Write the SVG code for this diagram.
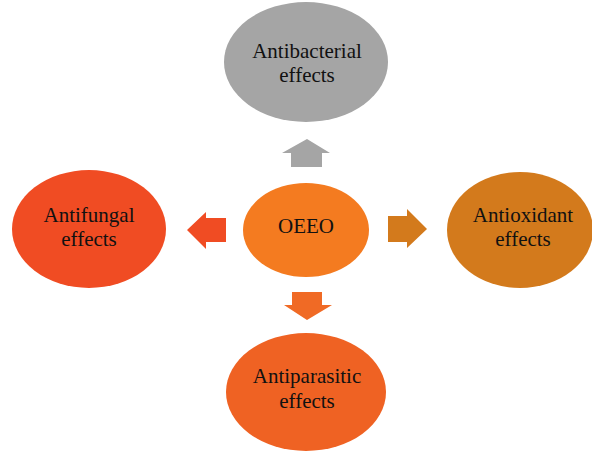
<svg xmlns="http://www.w3.org/2000/svg" width="592" height="451" viewBox="0 0 592 451">
<style>
text{font-family:"Liberation Serif","Times New Roman",serif;font-size:21px;fill:#111;text-anchor:middle}
</style>
<rect width="592" height="451" fill="#fff"/>
<g id="connectors">
<polygon points="307,139 330,153 322,153 322,167 291,167 291,153 282,153" fill="#a5a5a5"/>
<polygon points="187,230 206,212 206,218 226,218 226,242 206,242 206,249" fill="#f04c23"/>
<polygon points="427,229 407,209 407,216 388,216 388,242 407,242 407,248" fill="#d37a1c"/>
<polygon points="307,320 332,305 322,305 322,292 292,292 292,305 284,305" fill="#f06a25"/>
</g>
<g id="antibacterial"><ellipse cx="306" cy="62" rx="82" ry="60" fill="#a5a5a5"/><text x="307" y="58">Antibacterial</text><text x="307" y="82">effects</text></g>
<g id="antifungal"><ellipse cx="89" cy="229" rx="77" ry="59" fill="#f04c23"/><text x="89" y="222">Antifungal</text><text x="89" y="246">effects</text></g>
<g id="oeeo"><ellipse cx="306" cy="230" rx="63" ry="47" fill="#f47b20"/><text x="306" y="233">OEEO</text></g>
<g id="antioxidant"><ellipse cx="520" cy="230" rx="73" ry="58" fill="#d37a1c"/><text x="523" y="222">Antioxidant</text><text x="523" y="246">effects</text></g>
<g id="antiparasitic"><ellipse cx="306" cy="392" rx="80" ry="59" fill="#ef6223"/><text x="307" y="383">Antiparasitic</text><text x="307" y="408">effects</text></g>
</svg>
